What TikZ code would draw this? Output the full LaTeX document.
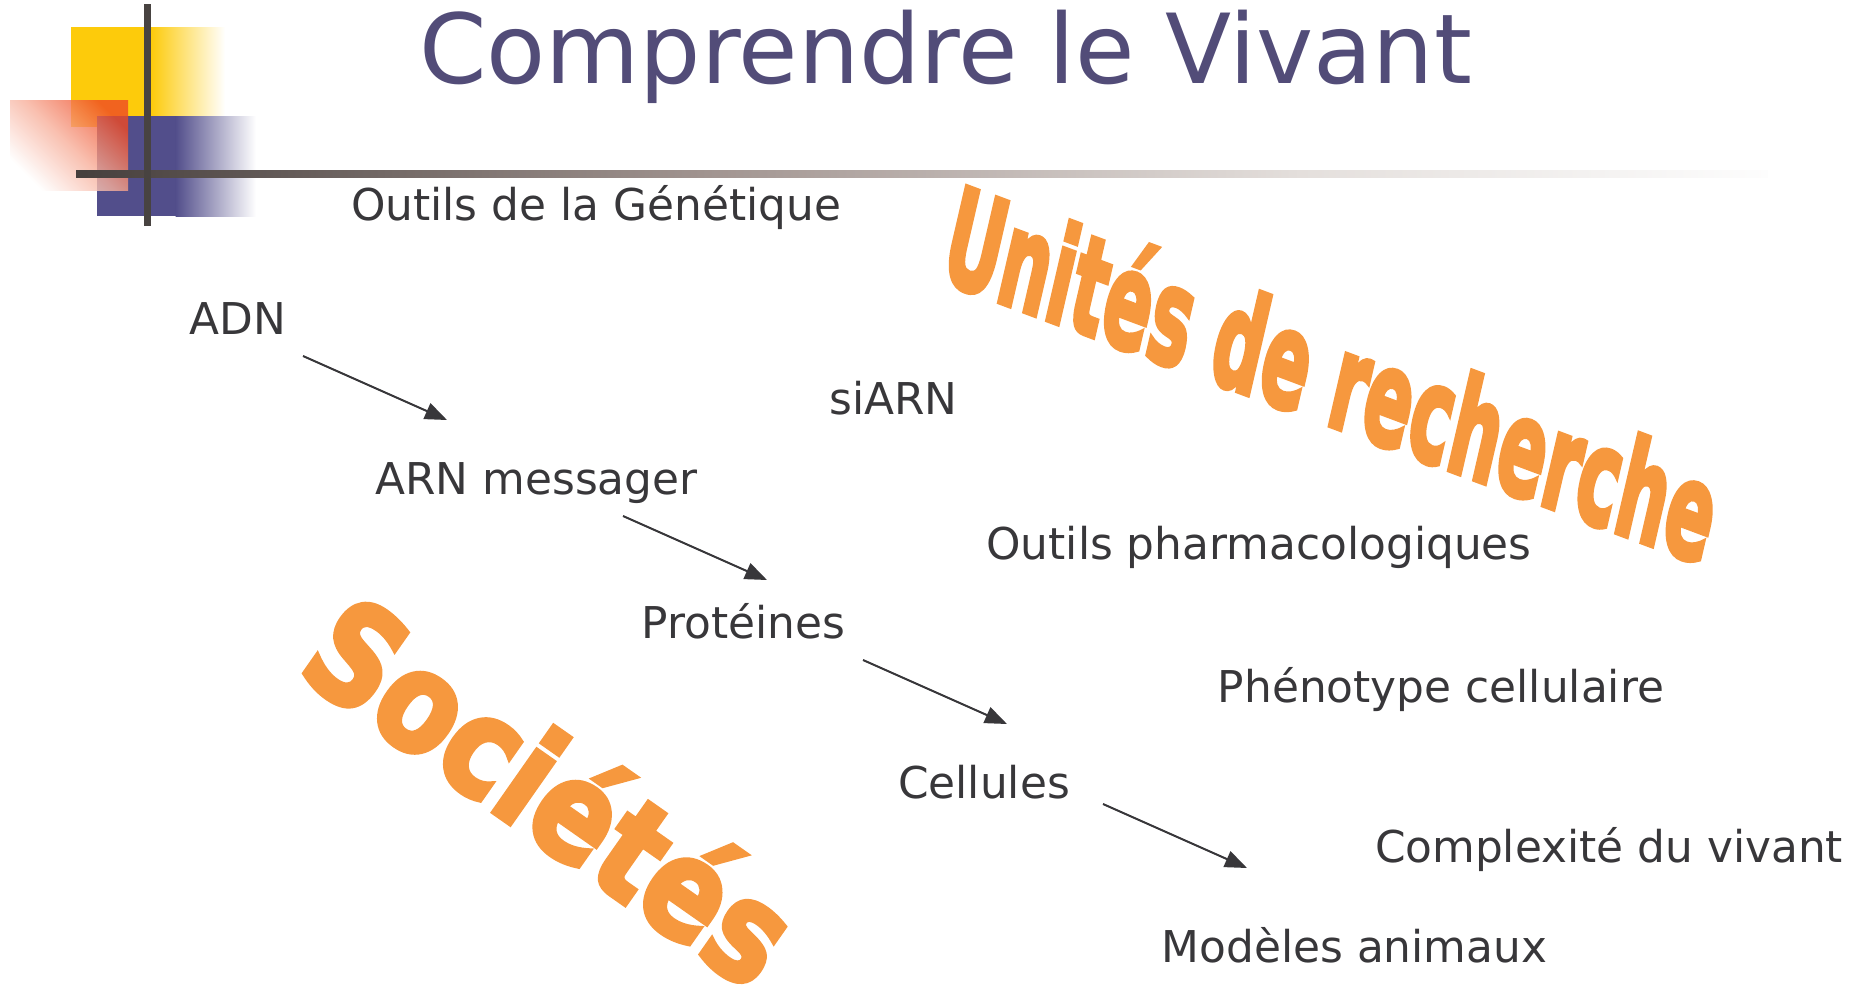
\documentclass[tikz,border=0pt]{standalone}
\usepackage{fontspec}
\setmainfont{DejaVu Sans}
\newfontfamily\wafont{DejaVu Sans}[BoldFeatures={FakeBold=4}]
\usetikzlibrary{arrows.meta}
\definecolor{txt}{HTML}{38373A}
\definecolor{ttl}{HTML}{524C78}
\definecolor{wa}{HTML}{F6983E}
\definecolor{yel}{HTML}{FDCB0B}
\definecolor{blu}{HTML}{524E8B}
\definecolor{pinkred}{HTML}{EF4A24}
\definecolor{pinkmid}{HTML}{F7B09C}
\definecolor{barc}{HTML}{484341}
\definecolor{hbA}{HTML}{463F3D}
\definecolor{hbB}{HTML}{A0938F}
\definecolor{hbC}{HTML}{E4DFDC}
\definecolor{hbD}{HTML}{FDFDFD}
\begin{document}
\begin{tikzpicture}[x=1bp,y=-1bp,
  lbl/.style={font=\fontsize{44}{50}\selectfont, text=txt, inner sep=0pt, anchor=base},
  arr/.style={draw=txt, line width=2bp, -{Triangle[length=22bp,width=17bp]}},
  wordart/.style={text=wa, inner sep=0pt, anchor=base west, transform shape}]
\useasboundingbox (0,0) rectangle (1854,984);
% --- corner decoration
\fill[yel] (71,27) rectangle (151.5,127);
\shade[left color=yel, right color=white] (151,27) rectangle (225,127);
\fill[blu] (97,116) rectangle (176,216);
\shade[left color=blu, right color=white] (175.5,116) rectangle (256,216);
\shade[top color=pinkred, bottom color=white, middle color=pinkmid, shading angle=-45, opacity=0.8] (10,100) rectangle (128,190);
% horizontal rule
\shade[left color=hbA, right color=hbB] (76,170) rectangle (700.5,177);
\shade[left color=hbB, right color=hbC] (700,170) rectangle (1300.5,177);
\shade[left color=hbC, right color=hbD] (1300,170) rectangle (1768,177);
% vertical rule
\fill[barc] (144,4) rectangle (151,226);
% --- title
\node[font=\fontsize{97}{110}\selectfont, text=ttl, inner sep=0pt, anchor=base] (title) at (945.5,83) {Comprendre le Vivant};
% --- word art
\begin{scope}[shift={(938,279)}, cm={0.506,-0.189,0.225,0.974,(0,0)}]
\node[wordart, font=\wafont\bfseries\fontsize{134}{140}\selectfont] (unites) at (0,0) {Unités de recherche};
\end{scope}
\begin{scope}[shift={(294,672)}, cm={0.696,-0.488,0.574,0.819,(0,0)}]
\node[wordart, font=\wafont\bfseries\fontsize{138}{150}\selectfont] (societes) at (0,0) {Sociétés};
\end{scope}
% --- labels
\node[lbl] (genet) at (596,220) {Outils de la Génétique};
\node[lbl] (adn) at (238,334) {ADN};
\node[lbl] (siarn) at (893.5,414) {siARN};
\node[lbl] (arnm) at (536.5,494) {ARN messager};
\node[lbl] (pharma) at (1259,559) {Outils pharmacologiques};
\node[lbl] (prot) at (743.5,638) {Protéines};
\node[lbl] (pheno) at (1441,702) {Phénotype cellulaire};
\node[lbl] (cell) at (984,798) {Cellules};
\node[lbl] (compl) at (1609,862) {Complexité du vivant};
\node[lbl] (model) at (1354.5,962) {Modèles animaux};
% --- arrows
\coordinate (a1s) at (303,356); \coordinate (a1e) at (447,420);
\coordinate (a2s) at (623,516); \coordinate (a2e) at (767,580);
\coordinate (a3s) at (863,660); \coordinate (a3e) at (1007,724);
\coordinate (a4s) at (1103,804); \coordinate (a4e) at (1247,868);
\draw[arr] (a1s) -- (a1e);
\draw[arr] (a2s) -- (a2e);
\draw[arr] (a3s) -- (a3e);
\draw[arr] (a4s) -- (a4e);
\end{tikzpicture}
\end{document}
